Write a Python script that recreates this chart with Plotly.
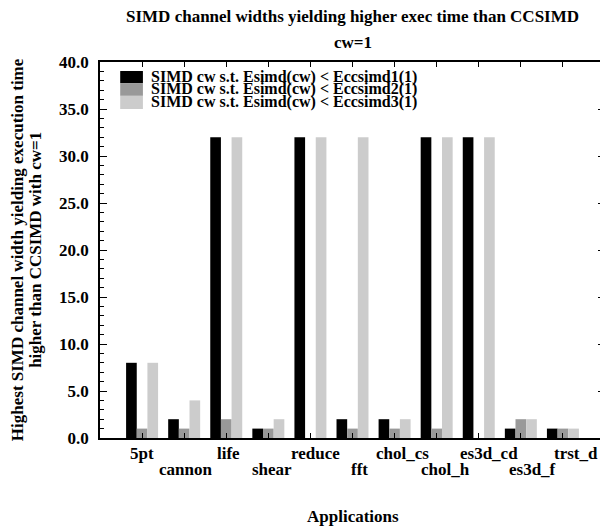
import plotly.graph_objects as go

apps = ["5pt", "cannon", "life", "shear", "reduce", "fft", "chol_cs", "chol_h", "es3d_cd", "es3d_f", "trst_d"]
s1 = [8, 2, 32, 1, 32, 2, 2, 32, 32, 1, 1]
s2 = [1, 1, 2, 1, 0, 1, 1, 1, 0, 2, 1]
s3 = [8, 4, 32, 2, 32, 32, 2, 32, 32, 2, 1]
names = ["SIMD cw s.t. Esimd(cw) < Eccsimd1(1)",
         "SIMD cw s.t. Esimd(cw) < Eccsimd2(1)",
         "SIMD cw s.t. Esimd(cw) < Eccsimd3(1)"]
colors = ["#000000", "#999999", "#cccccc"]
yticks = [0, 5, 10, 15, 20, 25, 30, 35, 40]

FONT = "Liberation Serif, Times New Roman, serif"
FS = 17
xs = list(range(len(apps)))

fig = go.Figure()
for nm, vals, c in zip(names, [s1, s2, s3], colors):
    fig.add_trace(go.Bar(x=xs, y=vals, name=nm, marker=dict(color=c, line=dict(width=0))))

annotations = [
    dict(text="SIMD channel widths yielding higher exec time than CCSIMD",
         xref="paper", yref="paper", x=0.5, y=1.122, xanchor="center", yanchor="middle",
         showarrow=False, font=dict(size=FS, family=FONT, weight="bold")),
    dict(text="cw=1", xref="paper", yref="paper", x=0.5, y=1.053,
         xanchor="center", yanchor="middle", showarrow=False,
         font=dict(size=FS, family=FONT, weight="bold")),
    dict(text="Highest SIMD channel width yielding execution time",
         xref="paper", yref="paper", x=-0.164, y=0.5, xanchor="center", yanchor="middle",
         textangle=-90, showarrow=False, font=dict(size=FS, family=FONT, weight="bold")),
    dict(text="higher than CCSIMD with cw=1",
         xref="paper", yref="paper", x=-0.129, y=0.5, xanchor="center", yanchor="middle",
         textangle=-90, showarrow=False, font=dict(size=FS, family=FONT, weight="bold")),
    dict(text="Applications", xref="paper", yref="paper", x=0.5, y=-0.21,
         xanchor="center", yanchor="middle", showarrow=False,
         font=dict(size=FS, family=FONT, weight="bold")),
]

# category labels, alternating between two rows (as in the original)
for i, a in enumerate(apps):
    annotations.append(dict(text=a, xref="x", yref="paper", x=xs[i] * 1.031,
                            y=-0.040 if i % 2 == 0 else -0.085,
                            xanchor="center", yanchor="middle", showarrow=False,
                            font=dict(size=FS, family=FONT, weight="bold")))

# compact legend inside the plot
shapes = []
row_top = [0.976, 0.944, 0.910]
row_bot = [0.944, 0.910, 0.875]
for nm, c, t, b in zip(names, colors, row_top, row_bot):
    shapes.append(dict(type="rect", xref="paper", yref="paper", x0=0.040, x1=0.085,
                       y0=b, y1=t, fillcolor=c, line=dict(width=0), layer="above"))
    annotations.append(dict(text=nm, xref="paper", yref="paper", x=0.097, y=(t + b) / 2,
                            xanchor="left", yanchor="middle", showarrow=False,
                            font=dict(size=16, family=FONT, weight="bold")))

fig.update_layout(
    width=600, height=521,
    margin=dict(l=92, r=3, t=54, b=91, autoexpand=False),
    paper_bgcolor="white", plot_bgcolor="white",
    font=dict(family=FONT, size=FS, color="black", weight="bold"),
    barmode="group", bargap=0.24, bargroupgap=0,
    showlegend=False,
    xaxis=dict(range=[-1, 11], tickvals=xs, showticklabels=False,
               ticks="inside", ticklen=5, tickcolor="black",
               showline=True, linecolor="black", linewidth=1.5, mirror="ticks",
               showgrid=False, zeroline=False, automargin=False),
    yaxis=dict(range=[0, 40], tickvals=yticks, tickformat=".1f",
               ticks="inside", ticklen=7, tickcolor="black",
               minor=dict(dtick=1, ticks="inside", ticklen=4, tickcolor="black"),
               showline=True, linecolor="black", linewidth=1.5, mirror="ticks",
               showgrid=False, zeroline=False, automargin=False,
               ticklabelstandoff=6,
               tickfont=dict(size=FS, family=FONT, weight="bold")),
    annotations=annotations,
    shapes=shapes,
)

fig.write_html("out.html")
